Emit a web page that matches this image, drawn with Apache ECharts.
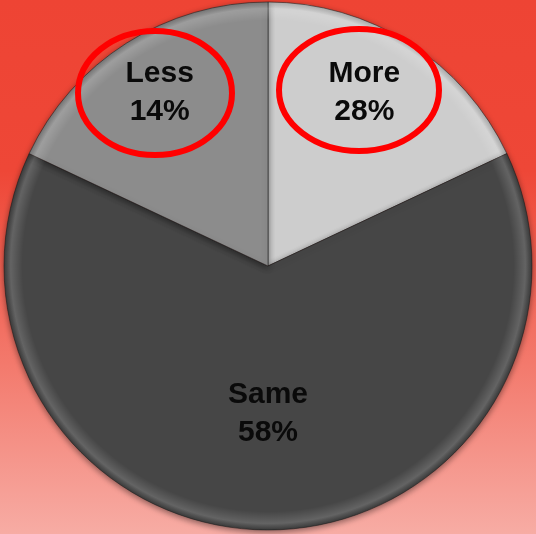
<!DOCTYPE html>
<html>
<head>
<meta charset="utf-8">
<title>More / Same / Less</title>
<script src="https://cdn.jsdelivr.net/npm/echarts@6/dist/echarts.min.js"></script>
<style>
  html, body {
    margin: 0;
    padding: 0;
  }
  #chart {
    width: 536px;
    height: 534px;
    background: linear-gradient(to bottom, #ee4434 0%, #ee4737 32%, #f3796c 68%, #f7aca4 100%);
  }
</style>
</head>
<body>
<div id="chart"></div>
<script>
// 分类 (顺时针，从12点钟开始)
const categories = ["More", "Same", "Less"];
// 扇区在图上实际所占的比例
const sliceShares = [18, 64, 18];
// 标签上印出的百分比
const labelPercents = [28, 58, 14];
const sliceColors = ["#cdcdcd", "#464646", "#8c8c8c"];
// 标签相对扇区中心的偏移
const labelOffsets = [[24, -59], [0, 13], [-36, -59]];
// 红色圈出的分类
const circled = ["More", "Less"];

const chart = echarts.init(document.getElementById("chart"));

const pieData = categories.map((name, i) => ({
  name: name,
  value: sliceShares[i],
  itemStyle: { color: sliceColors[i] },
  label: { offset: labelOffsets[i] },
}));

// 红色椭圆，圈住标签
const ellipseFor = {
  More: { cx: 359, cy: 90, rx: 80, ry: 61 },
  Less: { cx: 155, cy: 93, rx: 77, ry: 62 },
};

const option = {
  animation: false,
  series: [
    {
      type: "pie",
      center: [268, 266],
      radius: [0, 264],
      startAngle: 90,
      clockwise: true,
      silent: true,
      data: pieData,
      itemStyle: {
        borderColor: "rgba(30, 30, 30, 0.55)",
        borderWidth: 1,
        shadowBlur: 6,
        shadowOffsetY: 2,
        shadowColor: "rgba(0, 0, 0, 0.45)",
      },
      label: {
        show: true,
        position: "inside",
        formatter: (p) => p.name + "\n" + labelPercents[p.dataIndex] + "%",
        color: "#0a0a0a",
        fontFamily: "'Liberation Sans', Arial, sans-serif",
        fontWeight: "bold",
        fontSize: 30,
        lineHeight: 38,
        align: "center",
      },
      labelLine: { show: false },
    },
    {
      // 外缘高光，模拟斜面效果
      type: "pie",
      center: [268, 266],
      radius: [244, 264],
      startAngle: 90,
      silent: true,
      data: categories.map((name, i) => ({ name: name, value: sliceShares[i] })),
      itemStyle: {
        color: {
          type: "radial",
          global: true,
          x: 268,
          y: 266,
          r: 264,
          colorStops: [
            { offset: 0.93, color: "rgba(255, 255, 255, 0)" },
            { offset: 0.975, color: "rgba(255, 255, 255, 0.16)" },
            { offset: 1, color: "rgba(0, 0, 0, 0.15)" },
          ],
        },
        borderWidth: 0,
      },
      label: { show: false },
      labelLine: { show: false },
    },
  ],
  graphic: circled.map((name) => ({
    type: "ellipse",
    silent: true,
    shape: ellipseFor[name],
    style: {
      fill: "none",
      stroke: "#ff0000",
      lineWidth: 6,
    },
    z: 100,
  })),
};

chart.setOption(option);
</script>
</body>
</html>
